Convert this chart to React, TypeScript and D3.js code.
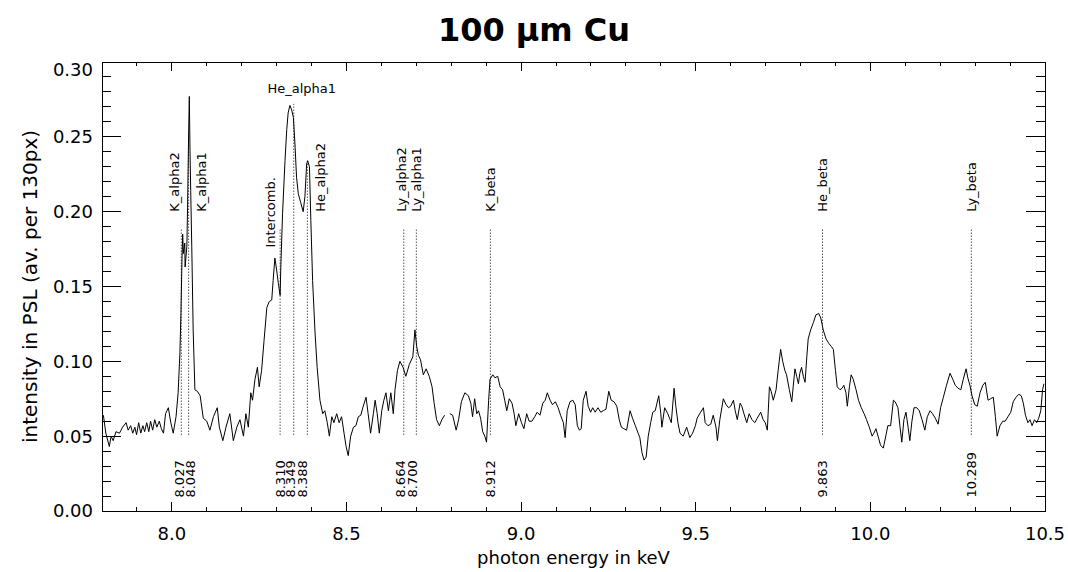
import React from "react";
import * as d3 from "d3";

// spectrum (keV, PSL); null = gap in the data
const energy = [
  7.804, 7.811, 7.821, 7.826, 7.832, 7.84, 7.85, 7.859, 7.869, 7.875, 7.882, 7.888, 7.894, 7.899, 7.905,
  7.911, 7.917, 7.922, 7.928, 7.934, 7.939, 7.945, 7.951, 7.957, 7.964, 7.97, 7.976, 7.982, 7.99, 7.997,
  8.004, 8.012, 8.018, 8.023, 8.026, 8.029, 8.031, 8.033, 8.037, 8.038, 8.043, 8.045, 8.048, 8.05, 8.052,
  8.054, 8.057, 8.061, 8.066, 8.073, 8.081, 8.09, 8.1, 8.109, 8.119, 8.13, 8.136, 8.146, 8.155, 8.166,
  8.176, 8.186, 8.195, 8.205, 8.212, 8.219, 8.226, 8.231, 8.238, 8.245, 8.25, 8.257, 8.264, 8.272, 8.279,
  8.286, 8.29, 8.295, 8.3, 8.305, 8.31, 8.312, 8.317, 8.324, 8.329, 8.333, 8.338, 8.343, 8.348, 8.353,
  8.357, 8.362, 8.369, 8.376, 8.381, 8.386, 8.389, 8.394, 8.398, 8.403, 8.41, 8.416, 8.424, 8.432, 8.438,
  8.445, 8.451, 8.458, 8.464, 8.472, 8.479, 8.486, 8.493, 8.499, 8.505, 8.512, 8.52, 8.527, 8.534, 8.541,
  8.548, 8.556, 8.562, 8.569, 8.577, 8.582, 8.588, 8.594, 8.601, 8.607, 8.613, 8.62, 8.627, 8.634, 8.639,
  8.646, 8.653, 8.662, 8.67, 8.68, 8.69, 8.696, 8.701, 8.706, 8.712, 8.72, 8.728, 8.737, 8.745, 8.751,
  8.758, 8.766, 8.773, 8.781, 8.788, 8.796, 8.804, 8.814, 8.821, 8.829, 8.839, 8.849, 8.856, 8.861, 8.867,
  8.873, 8.878, 8.884, 8.89, 8.896, 8.901, 8.907, 8.911, 8.919, 8.925, 8.933, 8.94, 8.947, 8.953, 8.959,
  8.966, 8.974, 8.98, 8.985, 8.993, 9.001, 9.008, 9.016, 9.023, 9.031, 9.039, 9.046, 9.054, 9.062, 9.069,
  9.075, 9.083, 9.09, 9.098, 9.106, 9.113, 9.121, 9.126, 9.132, 9.14, 9.148, 9.155, 9.161, 9.167, 9.172,
  9.178, 9.186, 9.192, 9.199, 9.205, 9.212, 9.22, 9.228, 9.235, 9.243, 9.251, 9.258, 9.266, 9.274, 9.281,
  9.287, 9.294, 9.302, 9.312, 9.319, 9.327, 9.335, 9.34, 9.346, 9.352, 9.358, 9.364, 9.371, 9.377, 9.384,
  9.394, 9.4, 9.403, 9.411, 9.42, 9.43, 9.438, 9.443, 9.449, 9.455, 9.464, 9.474, 9.483, 9.491, 9.499,
  9.504, 9.514, 9.522, 9.527, 9.535, 9.543, 9.55, 9.558, 9.562, 9.569, 9.579, 9.587, 9.594, 9.6, 9.608,
  9.613, 9.619, 9.627, 9.632, 9.638, 9.646, 9.653, 9.661, 9.669, 9.676, 9.686, 9.693, 9.699, 9.705, 9.711,
  9.716, 9.722, 9.73, 9.736, 9.743, 9.749, 9.755, 9.76, 9.768, 9.775, 9.779, 9.784, 9.789, 9.794, 9.798,
  9.803, 9.808, 9.813, 9.818, 9.822, 9.829, 9.837, 9.844, 9.852, 9.858, 9.865, 9.873, 9.881, 9.888, 9.894,
  9.9, 9.905, 9.913, 9.919, 9.924, 9.93, 9.934, 9.94, 9.945, 9.951, 9.959, 9.966, 9.974, 9.982, 9.989,
  9.997, 10.005, 10.01, 10.016, 10.022, 10.029, 10.037, 10.045, 10.05, 10.058, 10.066, 10.071, 10.079, 10.085, 10.09,
  10.096, 10.102, 10.108, 10.113, 10.119, 10.125, 10.133, 10.14, 10.148, 10.156, 10.163, 10.171, 10.178, 10.186, 10.194,
  10.201, 10.209, 10.218, 10.228, 10.236, 10.243, 10.251, 10.259, 10.266, 10.274, 10.279, 10.285, 10.291, 10.299, 10.306,
  10.314, 10.322, 10.329, 10.337, 10.344, 10.352, 10.358, 10.363, 10.371, 10.379, 10.386, 10.394, 10.402, 10.409, 10.417,
  10.425, 10.432, 10.438, 10.444, 10.451, 10.457, 10.463, 10.47, 10.476, 10.482, 10.488, 10.493, 10.497,
];

const intensity = [
  0.064, 0.052, 0.043, 0.05, 0.047, 0.053, 0.052, 0.056, 0.059, 0.054, 0.057, 0.052, 0.056, 0.051, 0.059,
  0.052, 0.057, 0.053, 0.059, 0.053, 0.06, 0.054, 0.061, 0.056, 0.06, 0.055, 0.052, 0.065, 0.069, 0.059,
  0.052, 0.063, 0.079, 0.105, 0.132, 0.168, 0.185, 0.172, 0.179, 0.163, 0.177, 0.203, 0.252, 0.277, 0.241,
  0.214, 0.177, 0.121, 0.081, 0.08, 0.077, 0.062, 0.06, 0.054, 0.063, 0.069, 0.056, 0.047, 0.056, 0.065,
  0.047, 0.056, 0.061, 0.05, 0.065, 0.056, 0.079, 0.074, 0.088, 0.096, 0.083, 0.094, 0.114, 0.136, 0.14,
  0.141, 0.154, 0.169, 0.161, 0.152, 0.144, 0.163, 0.199, 0.234, 0.255, 0.266, 0.271, 0.268, 0.263, 0.243,
  0.223, 0.212, 0.206, 0.2, 0.21, 0.232, 0.234, 0.23, 0.194, 0.154, 0.119, 0.096, 0.074, 0.065, 0.067,
  0.059, 0.05, 0.063, 0.059, 0.065, 0.059, 0.063, 0.052, 0.043, 0.037, 0.05, 0.056, 0.057, 0.063, 0.064,
  0.07, 0.076, 0.065, 0.052, 0.065, 0.074, 0.065, 0.052, 0.067, 0.074, 0.079, 0.067, 0.079, 0.065, 0.081,
  0.094, 0.1, 0.096, 0.09, 0.098, 0.103, 0.121, 0.11, 0.104, 0.101, 0.091, 0.095, 0.09, 0.083, 0.072,
  0.061, 0.057, 0.061, 0.064, null, 0.065, 0.064, 0.054, 0.061, 0.073, 0.079, 0.077, 0.072, 0.063, 0.075,
  0.065, 0.067, 0.062, 0.053, 0.05, 0.046, 0.074, 0.088, 0.091, 0.089, 0.09, 0.083, 0.081, 0.074, 0.067,
  0.075, 0.072, 0.065, 0.057, 0.065, 0.059, 0.055, 0.065, 0.06, 0.06, 0.063, 0.066, 0.064, 0.072, 0.074,
  0.079, 0.074, 0.071, 0.073, 0.069, 0.064, 0.059, 0.049, 0.067, 0.073, 0.074, 0.071, 0.057, 0.054, 0.055,
  0.074, 0.08, 0.07, 0.066, 0.069, 0.066, 0.069, 0.066, 0.067, 0.068, 0.08, 0.074, 0.073, 0.07, 0.061,
  0.056, 0.055, 0.054, 0.067, 0.062, 0.057, 0.052, 0.049, 0.039, 0.034, 0.036, 0.05, 0.059, 0.066, 0.067,
  0.077, 0.065, 0.056, 0.069, 0.065, 0.059, 0.082, 0.07, 0.059, 0.052, 0.05, 0.056, 0.049, 0.052, 0.057,
  0.062, 0.066, 0.069, 0.059, 0.057, 0.058, 0.064, 0.056, 0.047, 0.061, 0.075, 0.071, 0.069, 0.07, 0.074,
  0.067, 0.061, 0.072, 0.07, 0.065, 0.059, 0.065, 0.061, 0.059, 0.062, 0.066, 0.061, 0.059, 0.054, 0.083,
  0.08, 0.074, 0.081, 0.094, 0.108, 0.1, 0.094, 0.091, 0.081, 0.073, 0.083, 0.095, 0.09, 0.085, 0.092,
  0.096, 0.09, 0.086, 0.103, 0.115, 0.121, 0.126, 0.131, 0.132, 0.129, 0.121, 0.115, 0.112, 0.11, 0.108,
  0.094, 0.083, 0.081, 0.082, 0.084, 0.079, 0.07, 0.083, 0.091, 0.088, 0.081, 0.074, 0.069, 0.065, 0.061,
  0.056, 0.05, 0.052, 0.055, 0.05, 0.044, 0.042, 0.051, 0.057, 0.057, 0.074, 0.073, 0.069, 0.056, 0.046,
  0.061, 0.066, 0.056, 0.047, 0.06, 0.069, 0.069, 0.067, 0.061, 0.054, 0.063, 0.067, 0.065, 0.062, 0.058,
  0.069, 0.076, 0.084, 0.092, 0.088, 0.084, 0.082, 0.081, 0.088, 0.095, 0.089, 0.084, 0.077, 0.071, 0.07,
  0.079, 0.084, 0.086, 0.074, 0.075, 0.076, 0.063, 0.05, 0.057, 0.06, 0.06, 0.063, 0.066, 0.073, 0.076,
  0.078, 0.077, 0.072, 0.064, 0.059, 0.061, 0.057, 0.061, 0.059, 0.062, 0.067, 0.081, 0.085,
];

// emission lines marked in the plot
const lineNames = ["K_alpha2", "K_alpha1", "Intercomb.", "He_alpha1", "He_alpha2", "Ly_alpha2", "Ly_alpha1", "K_beta", "He_beta", "Ly_beta"];
const lineEnergies = [8.027, 8.048, 8.31, 8.349, 8.388, 8.664, 8.7, 8.912, 9.863, 10.289];
const lineLabels = ["8.027", "8.048", "8.310", "8.349", "8.388", "8.664", "8.700", "8.912", "9.863", "10.289"];
const lineTops = [0.189, 0.252, 0.189, 0.272, 0.234, 0.189, 0.189, 0.189, 0.189, 0.189];
const nameLevels = [0.2, 0.2, 0.176, 0.279, 0.2, 0.2, 0.2, 0.2, 0.2, 0.2];
const lineBottom = 0.051;
const numberLevel = 0.009;

const xTicks = [8.0, 8.5, 9.0, 9.5, 10.0, 10.5];
const yTicks = [0, 0.05, 0.1, 0.15, 0.2, 0.25, 0.3];

// small sideways nudges so crowded labels don't overlap (px)
const nameNudge = [-7, 13, -10, 8, 13, -2, 0, 0, 0, 0];
const numberNudge = [-2, 1.5, 0, -3, -5, -3, -4, 0, 0, 0];

const font = "'DejaVu Sans', sans-serif";

export default function App() {
  const width = 1068;
  const height = 572;
  const margin = { top: 62, right: 23, bottom: 61, left: 102 };

  const x = d3.scaleLinear().domain([7.8, 10.5]).range([margin.left, width - margin.right]);
  const y = d3.scaleLinear().domain([0, 0.3]).range([height - margin.bottom, margin.top]);

  const points = energy.map((e, i) => ({ e, v: intensity[i] }));
  const line = d3
    .line<{ e: number; v: number | null }>()
    .defined((d) => d.v !== null)
    .x((d) => x(d.e))
    .y((d) => y(d.v as number));

  const [x0, x1] = x.range();
  const [y0, y1] = y.range();
  const xMinor = d3.range(78, 106).map((k) => k / 10);
  const yMinor = d3.range(0, 31).map((k) => k / 100);
  const xLen = 0.02 * (y0 - y1);
  const yLen = 0.02 * (x1 - x0);

  return (
    <svg width={width} height={height} style={{ position: "absolute", left: 0, top: 0, background: "#fff" }}>
      <rect x={0} y={0} width={width} height={height} fill="#fff" />
      <text x={width / 2} y={41} textAnchor="middle" fontFamily={font} fontWeight="bold" fontSize={32}>
        100 µm Cu
      </text>

      {/* ticks on all four sides */}
      <g stroke="#000" strokeWidth={1} shapeRendering="crispEdges">
        {xMinor.map((t) => {
          const len = xTicks.some((m) => Math.abs(m - t) < 1e-6) ? xLen : xLen / 2;
          return (
            <g key={"x" + t}>
              <line x1={x(t)} x2={x(t)} y1={y0} y2={y0 - len} />
              <line x1={x(t)} x2={x(t)} y1={y1} y2={y1 + len} />
            </g>
          );
        })}
        {yMinor.map((t) => {
          const len = yTicks.some((m) => Math.abs(m - t) < 1e-6) ? yLen : yLen / 2;
          return (
            <g key={"y" + t}>
              <line x1={x0} x2={x0 + len} y1={y(t)} y2={y(t)} />
              <line x1={x1} x2={x1 - len} y1={y(t)} y2={y(t)} />
            </g>
          );
        })}
        <rect x={x0} y={y1} width={x1 - x0} height={y0 - y1} fill="none" />
      </g>

      <g fontFamily={font} fontSize={18} fill="#000">
        {xTicks.map((t) => (
          <text key={t} x={x(t)} y={y0 + 29} textAnchor="middle">
            {t.toFixed(1)}
          </text>
        ))}
        {yTicks.map((t, i) => (
          <text key={t} x={x0 - 9} y={y(t) + (i === yTicks.length - 1 ? 8 : 0)} dy="0.36em" textAnchor="end">
            {t.toFixed(2)}
          </text>
        ))}
        <text x={(x0 + x1) / 2} y={height - 8} textAnchor="middle">
          photon energy in keV
        </text>
        <text transform={`translate(37,${(y0 + y1) / 2}) rotate(-90)`} textAnchor="middle" fontSize={20}>
          intensity in PSL (av. per 130px)
        </text>
      </g>

      <path d={line(points) ?? ""} fill="none" stroke="#000" strokeWidth={1} strokeLinejoin="round" />

      {/* line markers */}
      <g fontFamily={font} fontSize={13} fill="#000">
        {lineEnergies.map((e, i) => {
          const lx = x(e);
          const horizontal = lineNames[i] === "He_alpha1";
          return (
            <g key={lineNames[i]}>
              <line x1={lx} x2={lx} y1={y(lineBottom)} y2={y(lineTops[i])} stroke="#000" strokeWidth={1} strokeDasharray="1,2" />
              {horizontal ? (
                <text x={lx + nameNudge[i]} y={y(nameLevels[i])} textAnchor="middle">
                  {lineNames[i]}
                </text>
              ) : (
                <text transform={`translate(${lx + nameNudge[i]},${y(nameLevels[i])}) rotate(-90)`} dominantBaseline="central">
                  {lineNames[i]}
                </text>
              )}
              <text transform={`translate(${lx + numberNudge[i]},${y(numberLevel)}) rotate(-90)`} dominantBaseline="central">
                {lineLabels[i]}
              </text>
            </g>
          );
        })}
      </g>
    </svg>
  );
}
